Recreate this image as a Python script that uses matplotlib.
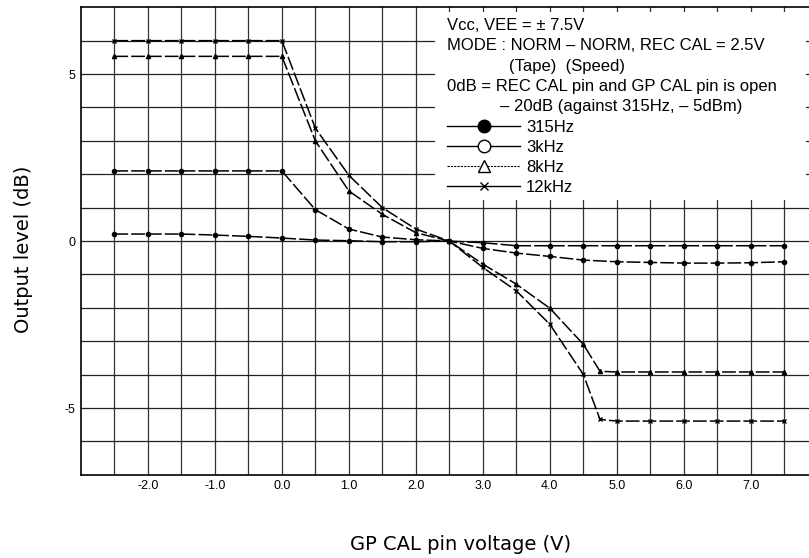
import numpy as np
import matplotlib
matplotlib.use('Agg')
import matplotlib.pyplot as plt
from matplotlib.lines import Line2D
from matplotlib.patches import Rectangle

plt.rcParams['font.family'] = ['Liberation Sans', 'DejaVu Sans']

# GP CAL pin voltage (V)
volts = [-2.5, -2.0, -1.5, -1.0, -0.5, 0.0, 0.5, 1.0, 1.5, 2.0, 2.5,
         3.0, 3.5, 4.0, 4.5, 5.0, 5.5, 6.0, 6.5, 7.0, 7.5]
volts_hi = [-2.5, -2.0, -1.5, -1.0, -0.5, 0.0, 0.5, 1.0, 1.5, 2.0, 2.5,
            3.0, 3.5, 4.0, 4.5, 4.75, 5.0, 5.5, 6.0, 6.5, 7.0, 7.5]

# output level (dB)
lvl_315 = [0.21, 0.21, 0.21, 0.18, 0.14, 0.09, 0.03, 0.01, -0.02, -0.02, 0.0,
           -0.05, -0.14, -0.14, -0.14, -0.14, -0.14, -0.14, -0.14, -0.14, -0.14]
lvl_3k = [2.1, 2.1, 2.1, 2.1, 2.1, 2.1, 0.94, 0.36, 0.12, 0.04, 0.0,
          -0.22, -0.36, -0.46, -0.57, -0.62, -0.64, -0.66, -0.66, -0.65, -0.62]
lvl_8k = [5.53, 5.53, 5.53, 5.53, 5.53, 5.53, 3.0, 1.5, 0.8, 0.25, 0.0,
          -0.69, -1.29, -2.01, -3.09, -3.9, -3.92, -3.92, -3.92, -3.92, -3.92, -3.92]
lvl_12k = [6.0, 6.0, 6.0, 6.0, 6.0, 6.0, 3.38, 1.97, 1.0, 0.36, 0.0,
           -0.79, -1.49, -2.49, -3.99, -5.34, -5.39, -5.39, -5.39, -5.39, -5.39, -5.39]

xtick_vals = [-2.0, -1.0, 0.0, 1.0, 2.0, 3.0, 4.0, 5.0, 6.0, 7.0]
ytick_vals = [-5, 0, 5]

fig = plt.figure(figsize=(8.09, 5.58), dpi=100)
ax = fig.add_axes([0.100, 0.149, 0.90, 0.838])
ax.set_xlim(-3.0, 7.87)
ax.set_ylim(-7, 7)

# grid
for gx in np.arange(-2.5, 7.51, 0.5):
    ax.axvline(gx, color='#333333', lw=0.9, zorder=1)
for gy in np.arange(-6, 6.1, 1):
    ax.axhline(gy, color='#222222', lw=0.9, zorder=1)

ls = (0, (9, 2))
ax.plot(volts, lvl_315, color='k', lw=1.1, ls=ls, marker='o', ms=3, zorder=3)
ax.plot(volts, lvl_3k, color='k', lw=1.1, ls=ls, marker='o', ms=3, zorder=3)
ax.plot(volts_hi, lvl_8k, color='k', lw=1.1, ls=ls, marker='^', ms=3, zorder=3)
ax.plot(volts_hi, lvl_12k, color='k', lw=1.1, ls=ls, marker='x', ms=3.5, mew=1, zorder=3)

# white panel behind the notes
ax.add_patch(Rectangle((0.486, 0.588), 0.51, 0.401, transform=ax.transAxes,
                       facecolor='white', edgecolor='none', zorder=4))

ax.set_xticks(xtick_vals)
ax.set_xticklabels(['%.1f' % v for v in xtick_vals])
ax.set_yticks(ytick_vals)
ax.set_yticklabels([str(v) for v in ytick_vals])
ax.tick_params(length=0, labelsize=9, pad=4)
ax.spines['right'].set_visible(False)
for s in ['left', 'top', 'bottom']:
    ax.spines[s].set_linewidth(1.2)

fig.text(461 / 809, 1 - 544 / 558, 'GP CAL pin voltage (V)', fontsize=14,
         family='DejaVu Sans', ha='center', va='center')
fig.text(24 / 809, 1 - 249 / 558, 'Output level (dB)', fontsize=14,
         family='DejaVu Sans', ha='center', va='center', rotation=90)

notes = [
    (447, 'Vcc, VEE = \u00b1 7.5V'),
    (447, 'MODE : NORM \u2013 NORM, REC CAL = 2.5V'),
    (509, '(Tape)  (Speed)'),
    (447, '0dB = REC CAL pin and GP CAL pin is open'),
    (500, '\u2013 20dB (against 315Hz, \u2013 5dBm)'),
]
for i, (tx, t) in enumerate(notes):
    fig.text(tx / 809, 1 - (25 + 20.5 * i) / 558, t, fontsize=12, va='center',
             ha='left', zorder=6)

handles = [
    Line2D([], [], color='k', lw=1, marker='o', ms=9, mfc='k'),
    Line2D([], [], color='k', lw=1, marker='o', ms=9, mfc='white'),
    Line2D([], [], color='k', lw=0.8, ls=(0, (2, 1)), marker='^', ms=9, mfc='white'),
    Line2D([], [], color='k', lw=1, marker='x', ms=6),
]
labels = ['315Hz', '3kHz', '8kHz', '12kHz']
leg = ax.legend(handles, labels, loc='upper left',
                bbox_to_anchor=(447 / 809, 1 - 120 / 558),
                bbox_transform=fig.transFigure, frameon=False, fontsize=12,
                handlelength=4.4, handleheight=0.7, labelspacing=0.3,
                borderpad=0, borderaxespad=0, handletextpad=0.35)
leg.set_zorder(6)

fig.savefig('out.png', dpi=100)
